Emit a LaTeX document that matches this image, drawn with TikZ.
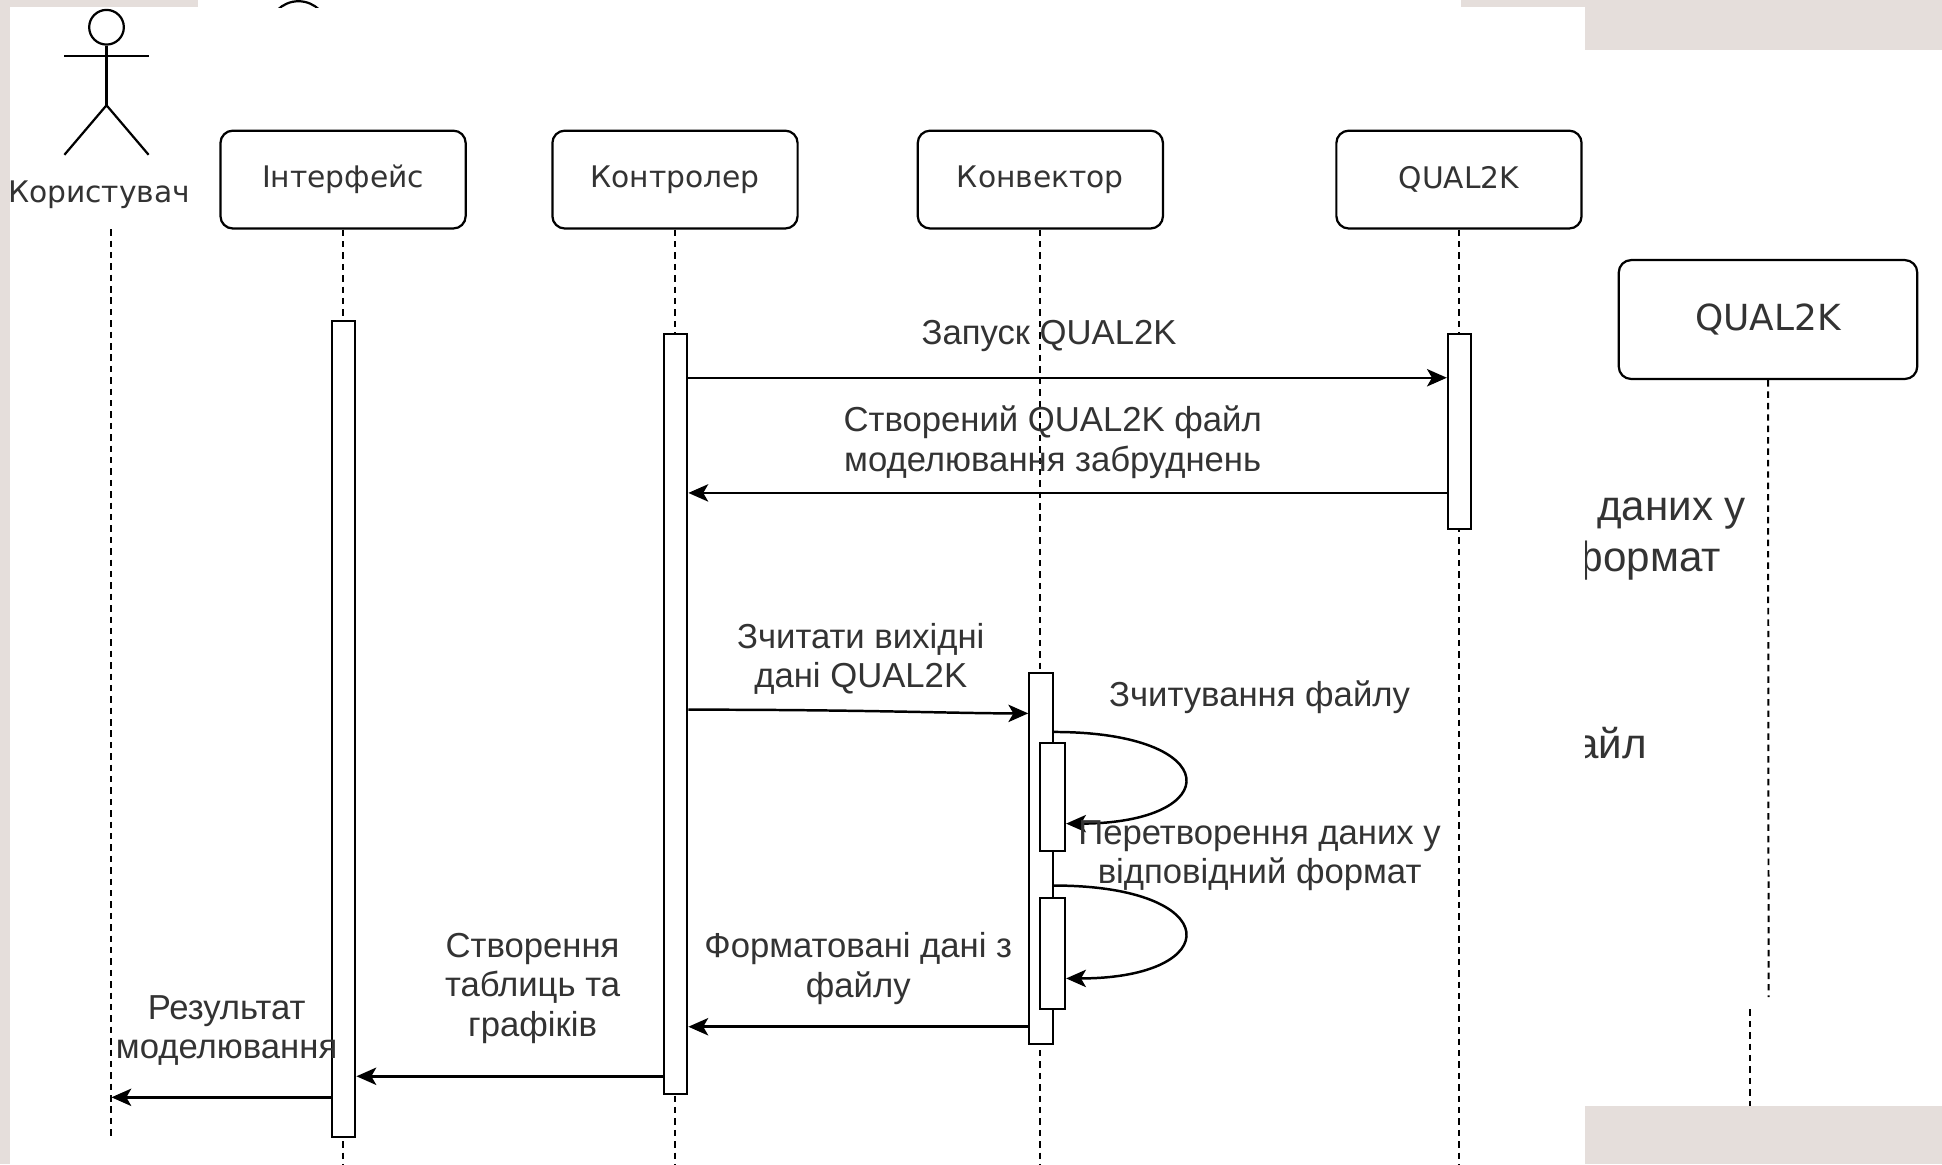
\documentclass[tikz,border=0pt]{standalone}
\usepackage{fontspec}
\setmainfont{Liberation Sans}
\newfontfamily\boxfont{DejaVu Sans}
\usetikzlibrary{arrows.meta,fit}
\definecolor{slide}{HTML}{E5DEDB}
\definecolor{ink}{HTML}{333333}
\tikzset{
  head/.style={draw,rounded corners=5pt,line width=0.9pt,minimum width=99pt,minimum height=39.5pt,
    font=\boxfont\fontsize{12}{14}\selectfont,text=ink},
  life/.style={dash pattern=on 2.6pt off 2pt,line width=0.8pt},
  bar/.style={draw,fill=white,line width=0.8pt,inner sep=0pt},
  msg/.style={-{Stealth[length=8pt,width=7pt,inset=2pt]},line width=1pt},
  lbl/.style={align=center,font=\fontsize{14}{16}\selectfont,text=ink},
  frag/.style={anchor=east,inner sep=0pt,font=\fontsize{17}{19}\selectfont,text=ink}
}
\begin{document}
\begin{tikzpicture}[x=0.5pt,y=-0.5pt]
  \useasboundingbox (0,0) rectangle (1568,940);
  \fill[slide] (0,0) rectangle (1568,940);
  \fill[white] (8,6) rectangle (1280,940);
  \fill[white] (160,0) rectangle (1180,6);
  \fill[white] (1280,40) rectangle (1568,893);

  \begin{scope}
    \clip (160,0) rectangle (1180,6);
    \draw[line width=0.9pt] (241,25) circle[radius=12pt];
  \end{scope}

  \begin{scope}
    \clip (1280,40) rectangle (1568,893);
    \node[head,minimum width=120.5pt,minimum height=48pt,font=\boxfont\fontsize{14.5}{16}\selectfont]
      (q2kbig) at (1427.5,258) {QUAL2K};
    \draw[life] (q2kbig.south) -- (1428,805);
    \draw[life] (1413,815) -- (1413,893);
    \node[frag] (fr1) at (1410,415) {даних у};
    \node[frag] (fr2) at (1390,453) {формат};
    \node[frag] (fr3) at (1330,600) {айл};
  \end{scope}

  \node[circle,draw,line width=0.9pt,minimum size=14pt,inner sep=0pt] (user) at (86,22) {};
  \draw[line width=0.9pt] (52,45) -- (120,45);
  \draw[line width=0.9pt] (user.south) -- (86,85) coordinate (hip);
  \draw[line width=0.9pt] (52,125) -- (hip) -- (120,125);
  \node[font=\boxfont\fontsize{12}{14}\selectfont,text=ink] (userlbl) at (80,157) {Користувач};

  \node[head] (ui) at (277,145) {Інтерфейс};
  \node[head] (ctl) at (545,145) {Контролер};
  \node[head] (conv) at (840,145) {Конвектор};
  \node[head] (q2k) at (1178,145) {QUAL2K};

  \draw[life] (90,185) coordinate (userlife) -- (90,920);
  \draw[life] (ui.south) -- (ui.south |- 0,940);
  \draw[life] (ctl.south) -- (ctl.south |- 0,940);
  \draw[life] (conv.south) -- (conv.south |- 0,940);
  \draw[life] (q2k.south) -- (q2k.south |- 0,940);

  \node[bar,fit={(268,259) (287,918)}] (uibar) {};
  \node[bar,fit={(536,270) (555,883)}] (ctlbar) {};
  \node[bar,fit={(831,543) (850,843)}] (convbar) {};
  \node[bar,fit={(840,600) (860,687)}] (read) {};
  \node[bar,fit={(840,725) (860,815)}] (form) {};
  \node[bar,fit={(1169,270) (1188,427)}] (q2kbar) {};

  \draw[msg] (ctlbar.east |- 0,305) -- (q2kbar.west |- 0,305);
  \node[lbl] (m1) at (847,271) {Запуск QUAL2K};

  \draw[msg] (q2kbar.west |- 0,398) -- (ctlbar.east |- 0,398);
  \node[lbl] (m2) at (850,357) {Створений QUAL2K файл\\моделювання забруднень};

  \draw[msg] (ctlbar.east |- 0,573) .. controls (700,573) and (770,576) .. (convbar.west |- 0,576);
  \node[lbl] (m3) at (695,532) {Зчитати вихідні\\дані QUAL2K};

  \draw[msg] (convbar.east |- 0,591) .. controls (990,591) and (990,665) .. (read.east |- 0,665);
  \node[lbl] (m4) at (1017,563) {Зчитування файлу};

  \draw[msg] (convbar.east |- 0,715) .. controls (990,715) and (990,790) .. (form.east |- 0,790);
  \node[lbl] (m5) at (1017,691) {Перетворення даних у\\відповідний формат};

  \draw[msg] (convbar.west |- 0,829) -- (ctlbar.east |- 0,829);
  \node[lbl] (m6) at (693,782) {Форматовані дані з\\файлу};

  \draw[msg] (ctlbar.west |- 0,869) -- (uibar.east |- 0,869);
  \node[lbl] (m7) at (430,798) {Створення\\таблиць та\\графіків};

  \draw[msg] (uibar.west |- 0,886) -- (userlife |- 0,886);
  \node[lbl] (m8) at (183,832) {Результат\\моделювання};
\end{tikzpicture}
\end{document}
